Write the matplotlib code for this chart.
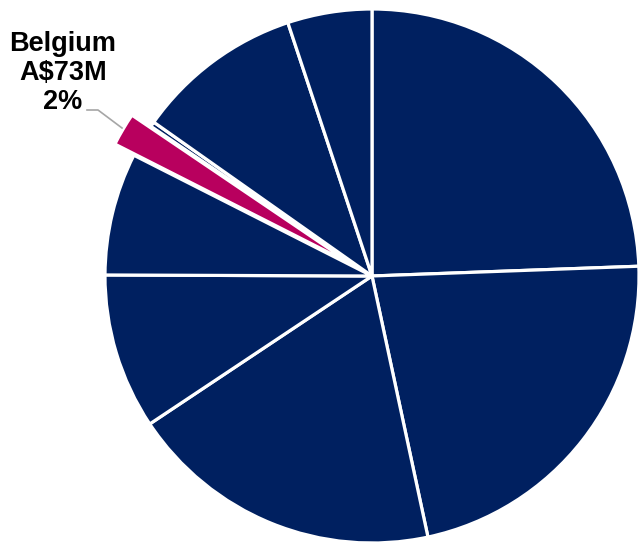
import matplotlib.pyplot as plt

# slice values in A$M, clockwise from 12 o'clock
labels = ['', '', '', '', '', 'Belgium', '', '', '']
values = [890, 810, 693, 343, 270, 73, 11, 369, 186]
highlight = 'Belgium'

navy = '#002060'
magenta = '#B8005E'

colors = [magenta if l == highlight else navy for l in labels]
# pie() adds explode as a plain offset in data units (here pixels)
explode = [22 if l == highlight else 0 for l in labels]

fig = plt.figure(figsize=(6.4, 5.45), dpi=100)
ax = fig.add_axes([0, 0, 1, 1])

wedges, _ = ax.pie(values, colors=colors, explode=explode, startangle=90,
                   counterclock=False, center=(372, 269), radius=267,
                   wedgeprops=dict(edgecolor='white', linewidth=2.3))
for w in wedges:
    w.set_clip_on(False)

# pie() resets the limits, so set them afterwards
ax.set_xlim(0, 640)
ax.set_ylim(0, 545)
ax.set_aspect('auto')
ax.axis('off')

i = labels.index(highlight)
total = sum(values)
txt = '%s\nA$%dM\n%d%%' % (highlight, values[i], round(100 * values[i] / total))
ax.text(63, 472, txt, ha='center', va='center', fontsize=19.5, fontweight='bold',
        family='Liberation Sans', linespacing=1.13, color='black')
ax.plot([87, 98, 122], [435, 435, 417], color='#A6A6A6', lw=1.2)

fig.savefig('out.png', dpi=100)
